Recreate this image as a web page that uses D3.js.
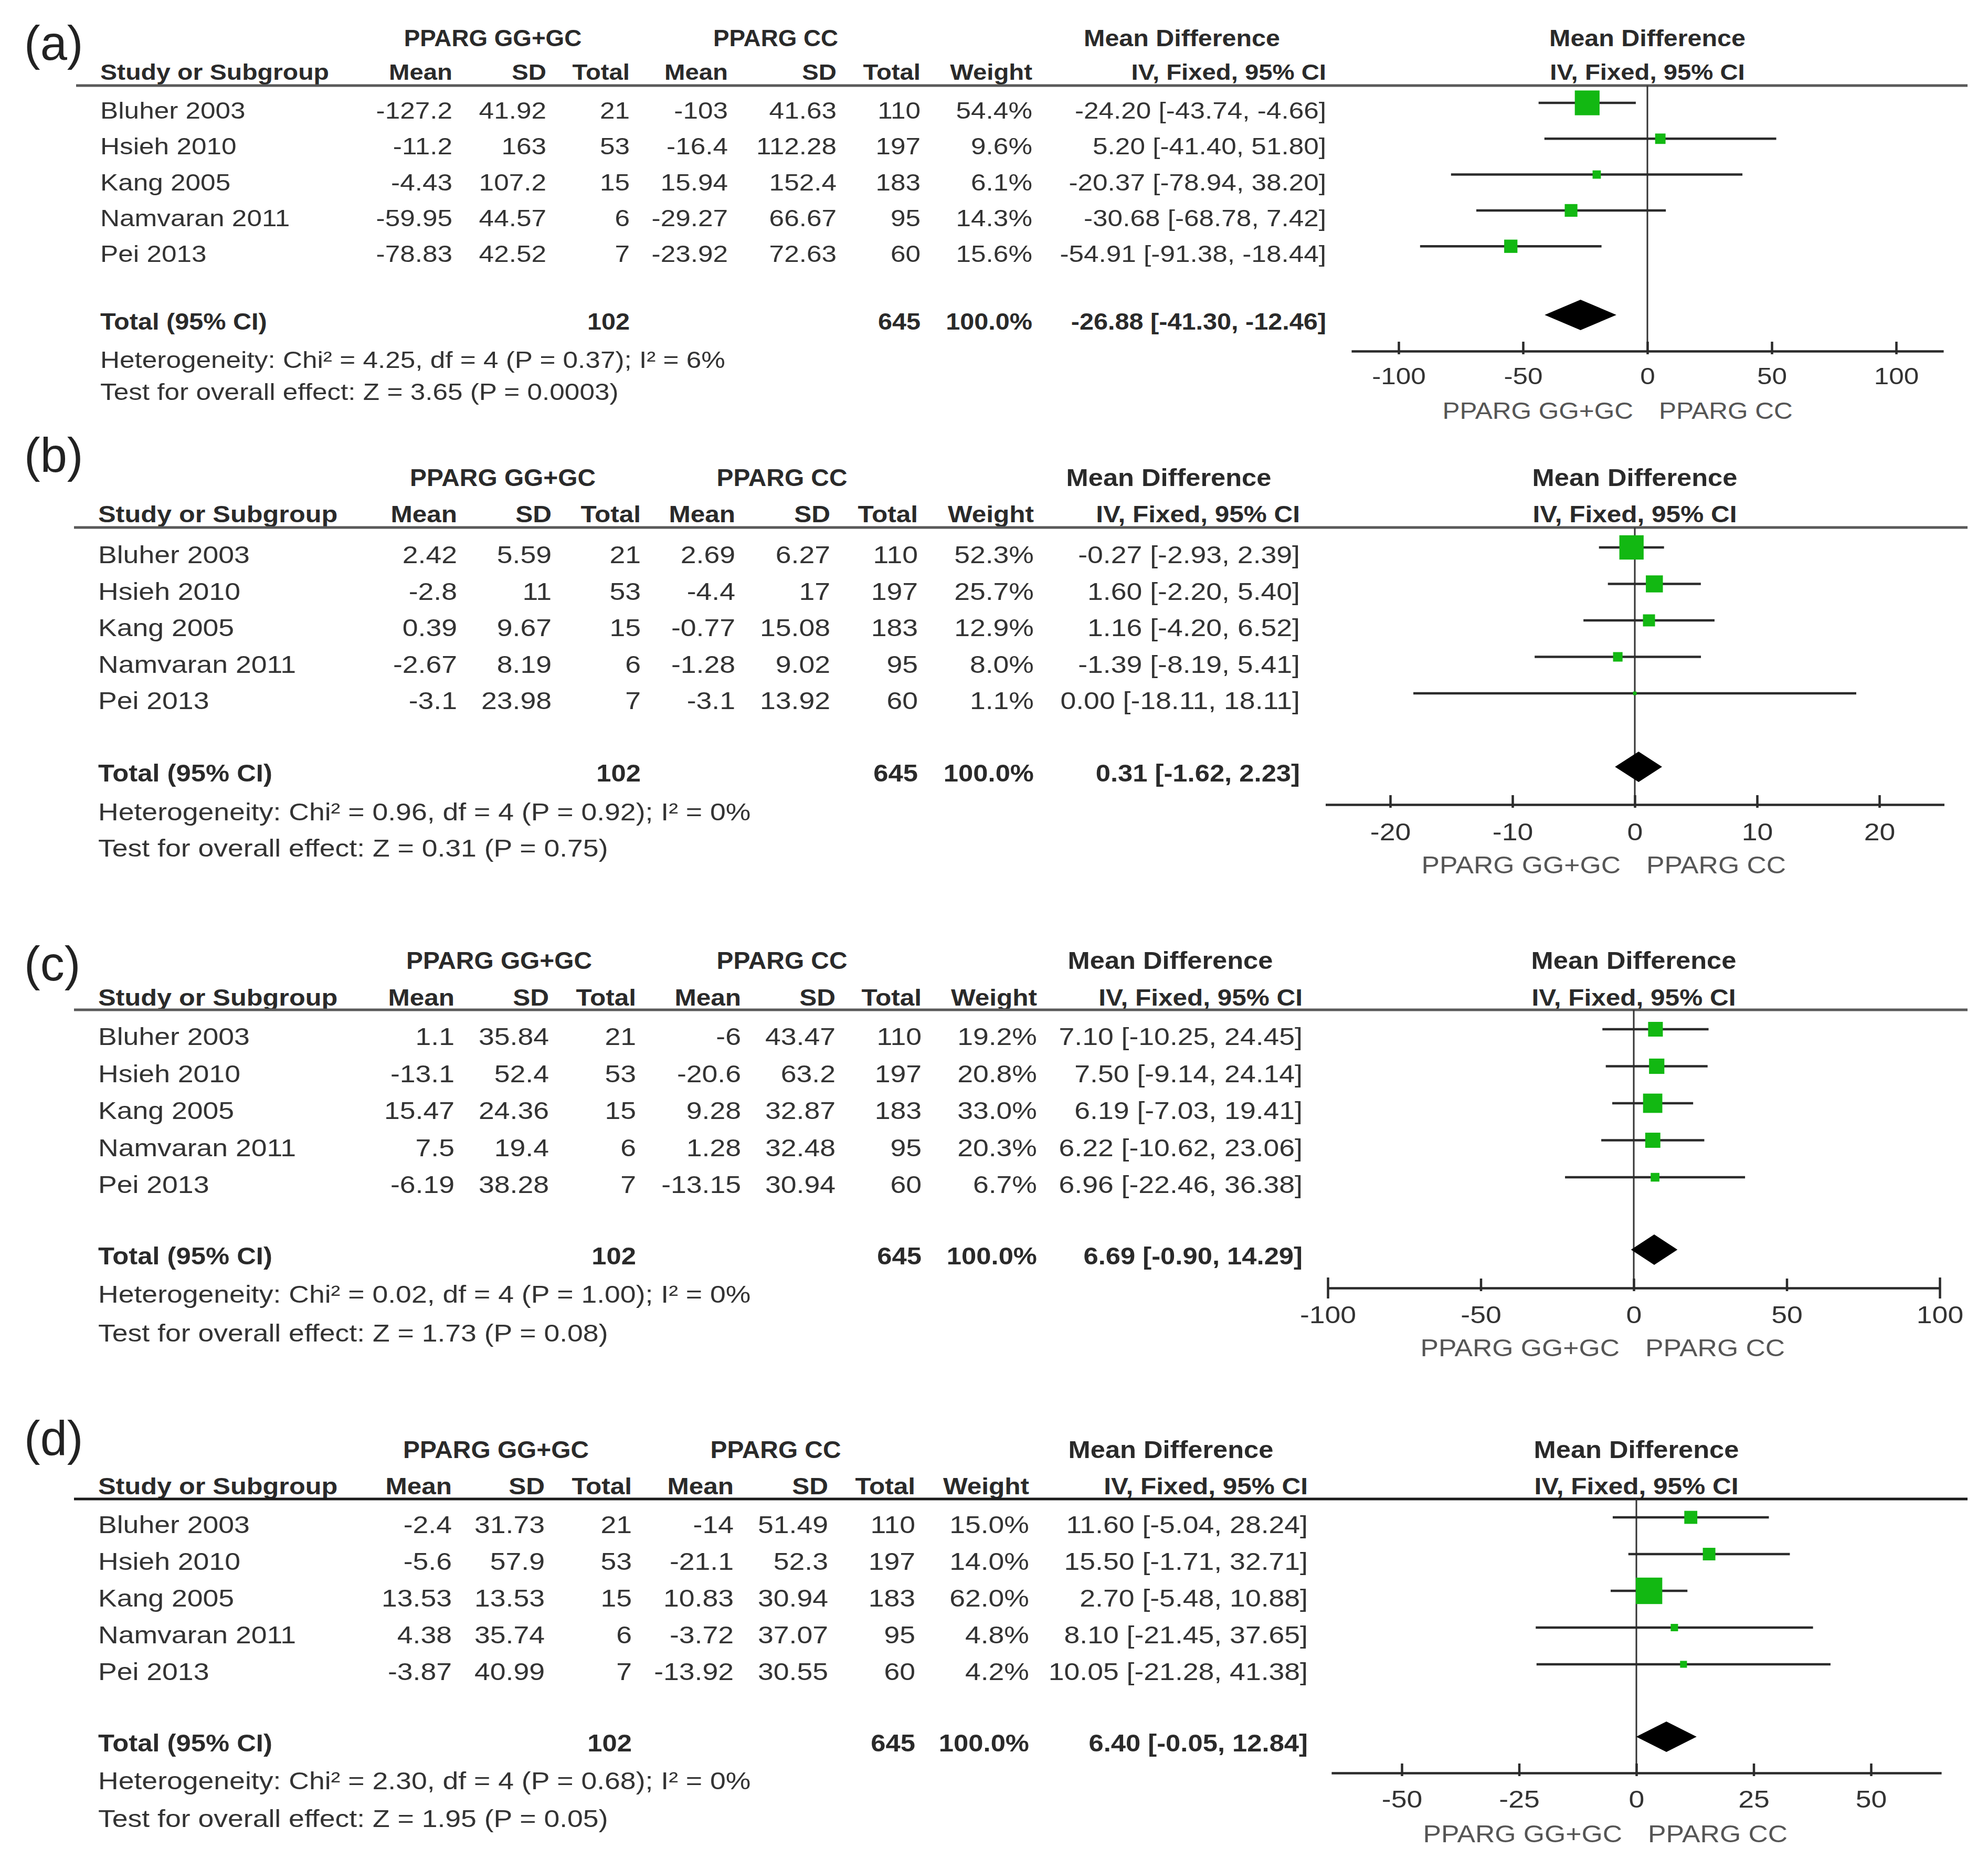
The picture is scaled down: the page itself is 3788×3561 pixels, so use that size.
<!DOCTYPE html>
<html>
<head>
<meta charset="utf-8">
<script src="https://cdn.jsdelivr.net/npm/d3@7"></script>
<style>
  body { margin: 0; background: #fff; }
  text { font-family: "Liberation Sans", Arial, sans-serif; }
</style>
</head>
<body>
<svg id="chart"></svg>
<script>
// data
var panelNames = ["(a)", "(b)", "(c)", "(d)"];
var studies = ["Bluher 2003", "Hsieh 2010", "Kang 2005", "Namvaran 2011", "Pei 2013"];

var ggMean = [[-127.2, -11.2, -4.43, -59.95, -78.83], [2.42, -2.8, 0.39, -2.67, -3.1], [1.1, -13.1, 15.47, 7.5, -6.19], [-2.4, -5.6, 13.53, 4.38, -3.87]];
var ggSD = [[41.92, 163, 107.2, 44.57, 42.52], [5.59, 11, 9.67, 8.19, 23.98], [35.84, 52.4, 24.36, 19.4, 38.28], [31.73, 57.9, 13.53, 35.74, 40.99]];
var ggN = [21, 53, 15, 6, 7];
var ccMean = [[-103, -16.4, 15.94, -29.27, -23.92], [2.69, -4.4, -0.77, -1.28, -3.1], [-6, -20.6, 9.28, 1.28, -13.15], [-14, -21.1, 10.83, -3.72, -13.92]];
var ccSD = [[41.63, 112.28, 152.4, 66.67, 72.63], [6.27, 17, 15.08, 9.02, 13.92], [43.47, 63.2, 32.87, 32.48, 30.94], [51.49, 52.3, 30.94, 37.07, 30.55]];
var ccN = [110, 197, 183, 95, 60];
var weights = [[54.4, 9.6, 6.1, 14.3, 15.6], [52.3, 25.7, 12.9, 8.0, 1.1], [19.2, 20.8, 33.0, 20.3, 6.7], [15.0, 14.0, 62.0, 4.8, 4.2]];
var md = [[-24.20, 5.20, -20.37, -30.68, -54.91], [-0.27, 1.60, 1.16, -1.39, 0.00], [7.10, 7.50, 6.19, 6.22, 6.96], [11.60, 15.50, 2.70, 8.10, 10.05]];
var ciLow = [[-43.74, -41.40, -78.94, -68.78, -91.38], [-2.93, -2.20, -4.20, -8.19, -18.11], [-10.25, -9.14, -7.03, -10.62, -22.46], [-5.04, -1.71, -5.48, -21.45, -21.28]];
var ciHigh = [[-4.66, 51.80, 38.20, 7.42, -18.44], [2.39, 5.40, 6.52, 5.41, 18.11], [24.45, 24.14, 19.41, 23.06, 36.38], [28.24, 32.71, 10.88, 37.65, 41.38]];
var totalMD = [-26.88, 0.31, 6.69, 6.40];
var totalLow = [-41.30, -1.62, -0.90, -0.05];
var totalHigh = [-12.46, 2.23, 14.29, 12.84];
var ggTotal = 102, ccTotal = 645;
var chi2 = ["4.25", "0.96", "0.02", "2.30"];
var hetP = ["0.37", "0.92", "1.00", "0.68"];
var i2 = ["6%", "0%", "0%", "0%"];
var zVal = ["3.65", "0.31", "1.73", "1.95"];
var zP = ["0.0003", "0.75", "0.08", "0.05"];
var tickValues = [[-100, -50, 0, 50, 100], [-20, -10, 0, 10, 20], [-100, -50, 0, 50, 100], [-50, -25, 0, 25, 50]];

// page positions of each panel
var layout = [
  {label: 114, group: 88, head: 152, line: 163, row0: 226, step: 68.3, total: 628, het: 701, test: 762, fs: 45,
   lineX: 145, study: 191, cols: [862, 1041, 1200, 1387, 1594, 1754, 1967, 2527], groups: [939, 1478, 2252],
   zero: 3139, ppu: 4.74, ext: 119, axisY: 669, tickY: 732, axLab: 798, lineColor: "#5a5a5a"},
  {label: 899, group: 926, head: 995, line: 1005, row0: 1073, step: 69.5, total: 1489, het: 1563, test: 1632, fs: 47,
   lineX: 141, study: 187, cols: [871, 1051, 1221, 1401, 1582, 1749, 1970, 2477], groups: [958, 1490, 2227],
   zero: 3115, ppu: 23.3, ext: 25.3, axisY: 1533, tickY: 1601, axLab: 1664, lineColor: "#5a5a5a"},
  {label: 1868, group: 1846, head: 1916, line: 1924, row0: 1991, step: 70.5, total: 2409, het: 2482, test: 2556, fs: 47,
   lineX: 141, study: 187, cols: [866, 1046, 1212, 1412, 1592, 1756, 1976, 2482], groups: [951, 1490, 2230],
   zero: 3113, ppu: 5.83, ext: 100, axisY: 2454, tickY: 2521, axLab: 2584, lineColor: "#5a5a5a"},
  {label: 2772, group: 2778, head: 2847, line: 2856, row0: 2921, step: 70, total: 3337, het: 3409, test: 3481, fs: 47,
   lineX: 141, study: 187, cols: [861, 1038, 1204, 1398, 1578, 1744, 1961, 2492], groups: [945, 1478, 2231],
   zero: 3118, ppu: 8.94, ext: 65, axisY: 3378, tickY: 3444, axLab: 3510, lineColor: "#1a1a1a"}
];

var W = 3788, H = 3561;
var SX = 1.14;   // the original text is wider than Arial
var svg = d3.select("#chart").attr("width", W).attr("height", H);
svg.append("rect").attr("width", W).attr("height", H).attr("fill", "#fff");

var boxSize = d3.scaleSqrt().domain([0, 100]).range([0, 64]);

function txt(g, x, y, s, anchor, bold, size, color, sx) {
  return g.append("text")
    .attr("transform", "translate(" + x + "," + y + ") scale(" + (sx || SX) + ",1)")
    .attr("text-anchor", anchor)
    .attr("font-size", size)
    .attr("font-weight", bold ? "bold" : "normal")
    .attr("fill", color || "#333")
    .text(s);
}

function ciText(m, lo, hi) {
  return m.toFixed(2) + " [" + lo.toFixed(2) + ", " + hi.toFixed(2) + "]";
}

panelNames.forEach(function(name, p) {
  var L = layout[p];
  var g = svg.append("g");
  var fs = L.fs;

  g.append("text").attr("x", 46).attr("y", L.label)
    .attr("font-family", "'Liberation Serif', 'Times New Roman', serif")
    .attr("font-size", 92).attr("fill", "#222").text(name);

  // group headers
  txt(g, L.groups[0], L.group, "PPARG GG+GC", "middle", true, fs - 1, "#2a2a2a", 1.04);
  txt(g, L.groups[1], L.group, "PPARG CC", "middle", true, fs - 1, "#2a2a2a", 1.04);
  txt(g, L.groups[2], L.group, "Mean Difference", "middle", true, fs - 1, "#2a2a2a", 1.1);
  txt(g, L.zero, L.group, "Mean Difference", "middle", true, fs - 1, "#2a2a2a", 1.1);

  // column headers
  txt(g, L.study, L.head, "Study or Subgroup", "start", true, fs - 2, "#2a2a2a", 1.12);
  var heads = ["Mean", "SD", "Total", "Mean", "SD", "Total", "Weight", "IV, Fixed, 95% CI"];
  heads.forEach(function(h, i) {
    txt(g, L.cols[i], L.head, h, "end", true, fs - 2, "#2a2a2a", 1.1);
  });
  txt(g, L.zero, L.head, "IV, Fixed, 95% CI", "middle", true, fs - 2, "#2a2a2a", 1.1);

  g.append("line").attr("x1", L.lineX).attr("x2", 3749)
    .attr("y1", L.line).attr("y2", L.line)
    .attr("stroke", L.lineColor).attr("stroke-width", 5);

  // study rows
  var rowY = function(i) { return L.row0 + i * L.step; };
  studies.forEach(function(s, i) {
    var y = rowY(i);
    txt(g, L.study, y, s, "start", false, fs);
    var vals = [ggMean[p][i], ggSD[p][i], ggN[i], ccMean[p][i], ccSD[p][i], ccN[i]];
    vals.forEach(function(v, j) { txt(g, L.cols[j], y, String(v), "end", false, fs); });
    txt(g, L.cols[6], y, weights[p][i].toFixed(1) + "%", "end", false, fs);
    txt(g, L.cols[7], y, ciText(md[p][i], ciLow[p][i], ciHigh[p][i]), "end", false, fs);
  });

  // total row
  txt(g, L.study, L.total, "Total (95% CI)", "start", true, fs, "#2a2a2a", 1.08);
  txt(g, L.cols[2], L.total, String(ggTotal), "end", true, fs, "#2a2a2a", 1.08);
  txt(g, L.cols[5], L.total, String(ccTotal), "end", true, fs, "#2a2a2a", 1.08);
  txt(g, L.cols[6], L.total, "100.0%", "end", true, fs, "#2a2a2a", 1.08);
  txt(g, L.cols[7], L.total, ciText(totalMD[p], totalLow[p], totalHigh[p]), "end", true, fs, "#2a2a2a", 1.08);

  txt(g, L.study, L.het, "Heterogeneity: Chi\u00b2 = " + chi2[p] + ", df = 4 (P = " + hetP[p] + "); I\u00b2 = " + i2[p], "start", false, fs);
  txt(g, L.study, L.test, "Test for overall effect: Z = " + zVal[p] + " (P = " + zP[p] + ")", "start", false, fs);

  // forest
  var x = d3.scaleLinear().domain([-L.ext, L.ext]).range([L.zero - L.ext * L.ppu, L.zero + L.ext * L.ppu]);

  g.append("line").attr("x1", x(0)).attr("x2", x(0))
    .attr("y1", L.line).attr("y2", L.axisY)
    .attr("stroke", "#333").attr("stroke-width", 3);

  var rows = g.selectAll(".study").data(studies).enter().append("g").attr("class", "study");
  rows.append("line")
    .attr("x1", function(d, i) { return x(ciLow[p][i]); })
    .attr("x2", function(d, i) { return x(ciHigh[p][i]); })
    .attr("y1", function(d, i) { return rowY(i) - 30; })
    .attr("y2", function(d, i) { return rowY(i) - 30; })
    .attr("stroke", "#2b2b2b").attr("stroke-width", 4.5);
  rows.append("rect")
    .attr("x", function(d, i) { return x(md[p][i]) - boxSize(weights[p][i]) / 2; })
    .attr("y", function(d, i) { return rowY(i) - 30 - boxSize(weights[p][i]) / 2; })
    .attr("width", function(d, i) { return boxSize(weights[p][i]); })
    .attr("height", function(d, i) { return boxSize(weights[p][i]); })
    .attr("fill", "#12b812");

  var dy = L.total - 28, dh = 29;
  g.append("path")
    .attr("d", "M" + x(totalLow[p]) + "," + dy + "L" + x(totalMD[p]) + "," + (dy - dh) +
               "L" + x(totalHigh[p]) + "," + dy + "L" + x(totalMD[p]) + "," + (dy + dh) + "Z")
    .attr("fill", "#000");

  var axis = d3.axisBottom(x).tickValues(tickValues[p]).tickSizeOuter(0).tickSizeInner(6)
    .tickFormat(function(d) { return String(d); });
  var ag = g.append("g").attr("transform", "translate(0," + L.axisY + ")").call(axis);
  ag.select(".domain").attr("stroke", "#2b2b2b").attr("stroke-width", 4.5);
  ag.selectAll(".tick line")
    .attr("y1", function(d) { return Math.abs(d) === L.ext ? 20 : 6; })
    .attr("y2", function(d) { return Math.abs(d) === L.ext ? -20 : -18; })
    .attr("stroke", "#2b2b2b").attr("stroke-width", 4.5);
  ag.selectAll(".tick text")
    .attr("y", null).attr("dy", null)
    .attr("transform", "translate(0," + (L.tickY - L.axisY) + ") scale(" + SX + ",1)")
    .attr("font-size", fs).attr("font-family", "'Liberation Sans', Arial, sans-serif")
    .attr("fill", "#333");

  txt(g, x(0) - 27, L.axLab, "PPARG GG+GC", "end", false, fs, "#555", 1.1);
  txt(g, x(0) + 22, L.axLab, "PPARG CC", "start", false, fs, "#555", 1.1);
});
</script>
</body>
</html>
